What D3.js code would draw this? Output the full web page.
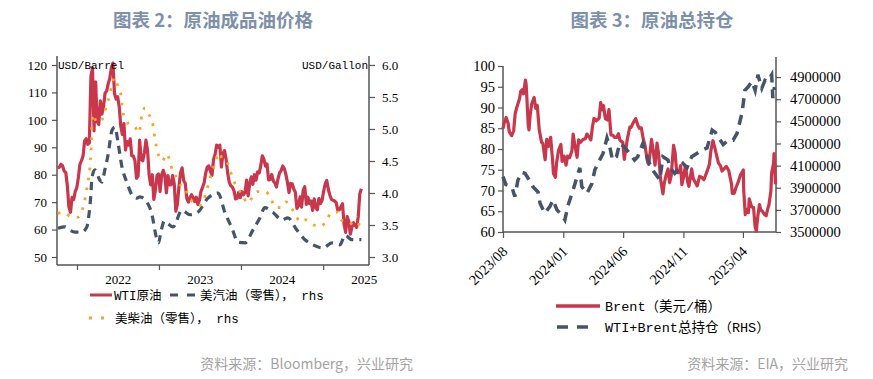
<!DOCTYPE html>
<html><head><meta charset="utf-8">
<script src="https://cdn.jsdelivr.net/npm/d3@7"></script>
<style>body{margin:0;background:#fff;}svg{display:block}</style>
</head><body>
<svg id="c" width="873" height="379"></svg>
<script>
// ---------------- Chart 2 data ----------------
const wtiStart = "2021-10-08"; // weekly observations
const wtiValues = [
 82.3,82.8,83.8,83.2,81.3,80.8,76.1,68.2,66.3,71.7,70.9,73.8,75.2,
 78.9,83.8,85.1,86.8,92.3,93.1,91.1,91.6,115.7,119.0,96.0,113.9,99.3,98.3,106.9,102.1,104.7,
 109.8,110.5,113.2,115.1,118.9,120.7,109.6,107.6,108.4,104.8,97.6,94.7,98.6,89.0,92.1,90.8,93.1,
 86.9,86.8,85.1,78.7,79.5,92.6,85.6,85.1,87.9,92.6,89.0,80.1,76.3,80.0,71.0,74.3,79.6,80.3,
 73.8,79.9,81.6,79.7,73.4,79.7,76.3,76.3,79.7,76.7,66.7,69.3,75.7,80.7,82.5,77.9,76.8,
 71.3,70.0,71.7,72.7,71.7,70.2,71.8,69.2,70.6,73.9,75.4,77.1,80.6,82.8,83.2,81.3,79.8,
 85.6,87.5,90.8,90.0,90.8,82.8,87.7,88.8,85.5,80.5,77.2,75.9,75.5,74.1,71.2,71.4,73.6,71.7,
 73.8,72.7,73.4,78.0,72.3,76.8,79.2,76.5,80.0,78.0,81.0,80.6,83.2,86.9,85.7,83.1,83.9,
 78.1,78.3,80.1,77.7,77.0,75.5,78.5,80.7,81.5,83.2,82.2,80.1,77.2,73.5,76.8,76.7,74.8,73.6,
 67.7,68.7,71.9,68.2,74.4,75.6,69.2,71.8,69.5,70.4,67.0,71.2,68.0,67.2,71.3,69.5,70.6,
 73.96,76.6,77.9,74.7,72.5,71.0,70.7,70.4,69.8,67.0,67.2,68.3,69.4,61.99,59.0,64.7,63.0,
 58.3,61.0,62.5,61.5,60.8,64.6,73.0,74.9
];
const gasDates = ["2021-10-08","2021-11-08","2021-11-30","2021-12-23","2022-01-23","2022-02-14","2022-02-21","2022-03-03","2022-03-09","2022-03-22","2022-04-13","2022-04-22","2022-05-05","2022-05-19","2022-06-06","2022-06-19","2022-07-03","2022-07-20","2022-08-12","2022-09-03","2022-09-25","2022-10-08","2022-11-08","2022-12-01","2022-12-20","2022-12-30","2023-01-10","2023-01-25","2023-02-10","2023-03-05","2023-04-13","2023-05-19","2023-06-23","2023-08-07","2023-09-21","2023-10-22","2023-11-22","2023-12-19","2024-01-19","2024-02-23","2024-03-25","2024-04-16","2024-05-22","2024-07-01","2024-07-28","2024-09-06","2024-10-12","2024-11-17","2024-12-31","2025-02-09","2025-03-17","2025-04-08","2025-05-09","2025-06-20"];
const gasValues = [3.45,3.47,3.42,3.39,3.39,3.47,3.60,3.94,4.25,4.36,4.20,4.17,4.36,4.59,4.98,5.03,4.78,4.41,4.16,3.97,3.92,3.94,3.86,3.66,3.31,3.22,3.40,3.56,3.52,3.47,3.73,3.66,3.70,3.92,4.00,3.69,3.45,3.23,3.22,3.42,3.61,3.77,3.70,3.58,3.61,3.42,3.27,3.19,3.14,3.22,3.19,3.34,3.27,3.27];
const dslDates = ["2021-10-08","2021-10-31","2021-11-30","2022-01-04","2022-02-13","2022-03-04","2022-03-12","2022-03-30","2022-04-12","2022-04-26","2022-05-14","2022-05-27","2022-06-05","2022-06-18","2022-07-02","2022-07-15","2022-07-24","2022-08-07","2022-08-25","2022-09-16","2022-10-04","2022-10-17","2022-10-31","2022-11-13","2022-12-06","2022-12-15","2022-12-24","2023-01-15","2023-02-06","2023-02-20","2023-03-01","2023-03-23","2023-04-05","2023-04-28","2023-05-11","2023-06-03","2023-07-04","2023-07-27","2023-08-18","2023-09-09","2023-09-23","2023-10-11","2023-11-02","2023-11-16","2023-11-29","2023-12-17","2024-01-08","2024-01-30","2024-02-22","2024-03-15","2024-04-20","2024-05-12","2024-06-04","2024-06-26","2024-07-19","2024-08-10","2024-09-01","2024-09-19","2024-10-16","2024-11-20","2024-12-22","2025-01-22","2025-02-04","2025-03-08","2025-03-21","2025-04-26","2025-05-27","2025-06-20"];
const dslValues = [3.68,3.70,3.64,3.62,4.05,4.62,5.23,5.11,5.11,5.17,5.38,5.53,5.69,5.80,5.67,5.55,5.27,5.14,5.06,5.03,4.94,5.22,5.33,5.25,5.05,4.83,4.67,4.50,4.61,4.47,4.36,4.23,4.13,4.08,3.94,3.86,3.81,3.97,4.25,4.48,4.63,4.53,4.47,4.33,4.20,4.08,3.97,3.84,3.94,4.02,4.02,3.92,3.77,3.77,3.86,3.77,3.66,3.55,3.58,3.50,3.48,3.61,3.69,3.70,3.58,3.55,3.47,3.58];
const leftTicksL = [50,60,70,80,90,100,110,120];
const leftTicksR = [3.0,3.5,4.0,4.5,5.0,5.5,6.0];
const yearTicks = ["2022-01-01","2023-01-01","2024-01-01","2025-01-01"];
const yearLabelDates = ["2022-07-01","2023-07-01","2024-07-01","2025-07-01"];
const yearLabels = ["2022","2023","2024","2025"];

// ---------------- Chart 3 data ----------------
const brentDates = ["2023-08-01","2023-08-04","2023-08-09","2023-08-14","2023-08-17","2023-08-23","2023-08-28","2023-09-01","2023-09-05","2023-09-12","2023-09-15","2023-09-19","2023-09-22","2023-09-27","2023-09-29","2023-10-04","2023-10-06","2023-10-09","2023-10-13","2023-10-19","2023-10-23","2023-10-27","2023-11-01","2023-11-07","2023-11-10","2023-11-16","2023-11-20","2023-11-24","2023-11-30","2023-12-05","2023-12-07","2023-12-12","2023-12-15","2023-12-20","2023-12-26","2023-12-29","2024-01-03","2024-01-08","2024-01-12","2024-01-17","2024-01-23","2024-01-26","2024-01-31","2024-02-05","2024-02-09","2024-02-14","2024-02-20","2024-02-26","2024-03-01","2024-03-06","2024-03-11","2024-03-15","2024-03-19","2024-03-25","2024-04-01","2024-04-05","2024-04-09","2024-04-12","2024-04-17","2024-04-22","2024-04-26","2024-05-01","2024-05-06","2024-05-10","2024-05-15","2024-05-20","2024-05-24","2024-05-31","2024-06-04","2024-06-07","2024-06-12","2024-06-18","2024-06-21","2024-06-27","2024-07-03","2024-07-08","2024-07-12","2024-07-17","2024-07-22","2024-07-26","2024-08-02","2024-08-05","2024-08-12","2024-08-16","2024-08-21","2024-08-26","2024-08-30","2024-09-04","2024-09-10","2024-09-13","2024-09-18","2024-09-23","2024-09-27","2024-10-01","2024-10-07","2024-10-11","2024-10-15","2024-10-21","2024-10-25","2024-10-28","2024-11-01","2024-11-06","2024-11-12","2024-11-15","2024-11-22","2024-11-26","2024-12-02","2024-12-06","2024-12-12","2024-12-17","2024-12-23","2024-12-31","2025-01-06","2025-01-10","2025-01-15","2025-01-20","2025-01-24","2025-01-29","2025-02-03","2025-02-07","2025-02-12","2025-02-18","2025-02-24","2025-03-03","2025-03-05","2025-03-10","2025-03-14","2025-03-20","2025-03-26","2025-04-02","2025-04-03","2025-04-07","2025-04-09","2025-04-11","2025-04-15","2025-04-17","2025-04-23","2025-04-28","2025-05-02","2025-05-05","2025-05-09","2025-05-13","2025-05-16","2025-05-21","2025-05-27","2025-05-30","2025-06-03","2025-06-06","2025-06-11","2025-06-13","2025-06-18","2025-06-19","2025-06-20","2025-06-23"];
const brentValues = [84.9,86.2,87.6,86.2,84.1,83.2,84.4,88.6,90.0,92.1,93.9,94.3,93.3,96.6,95.3,85.8,84.6,88.2,90.9,92.4,89.8,90.5,84.6,81.6,81.4,77.4,82.3,80.6,82.8,77.2,74.1,73.2,76.6,79.7,81.1,77.0,78.3,76.1,78.3,77.9,79.6,83.6,80.6,78.0,82.2,81.6,82.3,82.5,83.6,82.96,82.2,85.3,87.4,86.8,87.4,91.2,89.4,90.5,87.3,87.0,89.5,83.4,83.3,82.8,82.8,83.7,82.1,81.6,77.5,79.6,82.6,85.3,85.2,86.4,87.3,85.8,85.0,85.1,82.4,81.1,76.8,76.3,82.3,79.7,76.1,81.4,78.8,72.7,69.2,71.6,73.7,75.2,71.9,73.6,80.9,79.0,74.3,74.3,76.0,71.4,73.1,75.9,72.0,71.0,75.2,72.8,71.8,71.1,73.4,73.2,72.6,74.6,76.3,79.8,82.0,80.2,78.5,76.6,75.96,74.7,75.2,75.8,74.8,71.6,69.3,69.3,70.6,72.0,73.8,74.95,70.1,64.2,65.5,64.8,64.7,68.0,66.1,65.9,61.3,60.2,63.9,66.6,65.4,64.9,64.1,63.9,65.6,66.5,69.8,74.2,76.7,78.9,77.0,71.5];
const posDates = ["2023-08-01","2023-08-08","2023-08-15","2023-08-24","2023-08-31","2023-09-08","2023-09-18","2023-09-26","2023-10-03","2023-10-16","2023-10-29","2023-11-03","2023-11-15","2023-11-28","2023-12-06","2023-12-16","2023-12-29","2024-01-05","2024-01-13","2024-01-26","2024-02-05","2024-02-12","2024-02-17","2024-03-01","2024-03-14","2024-03-21","2024-03-29","2024-04-11","2024-04-21","2024-04-28","2024-05-05","2024-05-15","2024-05-23","2024-06-04","2024-06-17","2024-06-30","2024-07-08","2024-07-21","2024-08-03","2024-08-15","2024-09-02","2024-09-10","2024-09-23","2024-09-28","2024-10-10","2024-10-18","2024-10-31","2024-11-10","2024-11-22","2024-12-05","2024-12-18","2024-12-31","2025-01-13","2025-01-21","2025-01-28","2025-02-10","2025-02-23","2025-03-07","2025-03-17","2025-03-30","2025-04-06","2025-04-14","2025-04-24","2025-05-02","2025-05-09","2025-05-19","2025-05-27","2025-06-03","2025-06-13","2025-06-16","2025-06-20"];
const posValues = [4000000,3930000,3920000,3900000,3820000,3970000,4040000,4030000,3990000,3910000,3860000,3760000,3670000,3730000,3790000,3700000,3650000,3610000,3740000,3880000,4000000,4080000,3910000,3850000,3940000,4060000,4120000,4210000,4350000,4270000,4150000,4180000,4300000,4270000,4210000,4150000,4180000,4300000,4150000,4060000,3970000,4180000,4150000,4080000,4030000,4060000,4120000,4080000,4180000,4210000,4240000,4260000,4420000,4400000,4360000,4290000,4330000,4330000,4390000,4580000,4780000,4810000,4860000,4780000,4920000,4800000,4870000,4860000,4920000,4710000,4810000];
const rightTicksL = [60,65,70,75,80,85,90,95,100];
const rightTicksR = [3500000,3700000,3900000,4100000,4300000,4500000,4700000,4900000];
const monthTicks = ["2023-08-01","2024-01-01","2024-06-01","2024-11-01","2025-04-01"];
const monthLabels = ["2023/08","2024/01","2024/06","2024/11","2025/04"];

// ---------------- styles ----------------
const RED = "#C9374C", NAVY = "#44546A", ORANGE = "#F7A428";
const TITLE = "#7d90aa", AXIS = "#555";
const SERIF = "'Liberation Serif','Times New Roman',serif";
const CJK = "'Noto Sans CJK SC','Noto Sans',sans-serif";
const MONO = "'Liberation Mono','Noto Sans CJK SC',monospace";

const parse = d3.timeParse("%Y-%m-%d");
const svg = d3.select("#c");

function styleAxis(g, size) {
  g.select(".domain").remove();
  g.selectAll(".tick line").attr("stroke", AXIS).attr("stroke-width", 1.2);
  g.selectAll("text").attr("font-family", SERIF).attr("font-size", size).attr("fill", "#000");
}

// ================= Chart 2 =================
{
  const x = d3.scaleTime().domain([parse("2021-10-04"), parse("2025-07-24")]).range([57, 369]);
  const yL = d3.scaleLinear().domain([47.08, 123.28]).range([265, 56]);
  const yR = d3.scaleLinear().domain([2.875, 6.14]).range([265, 56]);

  svg.append("text").attr("x", 213).attr("y", 27).attr("text-anchor", "middle")
    .attr("font-family", CJK).attr("font-weight", "bold").attr("font-size", 18.5)
    .attr("fill", TITLE).text("图表 2：原油成品油价格");

  const gL = svg.append("g").attr("transform", "translate(57,0)")
    .call(d3.axisLeft(yL).tickValues(leftTicksL).tickSize(5).tickPadding(5));
  styleAxis(gL, 13);
  const gR = svg.append("g").attr("transform", "translate(369,0)")
    .call(d3.axisRight(yR).tickValues(leftTicksR).tickFormat(d3.format(".1f")).tickSize(6).tickPadding(7));
  styleAxis(gR, 13);
  const gX = svg.append("g").attr("transform", "translate(0,265)")
    .call(d3.axisBottom(x).tickValues(yearTicks.map(parse)).tickSize(5).tickFormat(""));
  styleAxis(gX, 13);
  const gX2 = svg.append("g").attr("transform", "translate(0,265)")
    .call(d3.axisBottom(x).tickValues(yearLabelDates.map(parse)).tickSize(0).tickPadding(10)
      .tickFormat((d, i) => yearLabels[i]));
  styleAxis(gX2, 13);

  svg.append("line").attr("x1", 57).attr("x2", 57).attr("y1", 56).attr("y2", 265).attr("stroke", AXIS).attr("stroke-width", 1.5);
  svg.append("line").attr("x1", 369).attr("x2", 369).attr("y1", 56).attr("y2", 265).attr("stroke", AXIS).attr("stroke-width", 1.5);
  svg.append("line").attr("x1", 57).attr("x2", 369).attr("y1", 265).attr("y2", 265).attr("stroke", AXIS).attr("stroke-width", 1.5);

  const wti = wtiValues.map((v, i) => ({d: d3.timeDay.offset(parse(wtiStart), 7 * i), v}));
  const gas = gasDates.map((d, i) => ({d: parse(d), v: gasValues[i]}));
  const dsl = dslDates.map((d, i) => ({d: parse(d), v: dslValues[i]}));

  svg.append("path").datum(gas).attr("fill", "none").attr("stroke", NAVY).attr("stroke-width", 3.2)
    .attr("stroke-dasharray", "8,6")
    .attr("d", d3.line().x(p => x(p.d)).y(p => yR(p.v)).curve(d3.curveMonotoneX));
  svg.append("path").datum(wti).attr("fill", "none").attr("stroke", RED).attr("stroke-width", 3.2)
    .attr("stroke-linejoin", "round")
    .attr("d", d3.line().x(p => x(p.d)).y(p => yL(p.v)));
  svg.append("path").datum(dsl).attr("fill", "none").attr("stroke", ORANGE).attr("stroke-width", 2.8)
    .attr("stroke-dasharray", "2.6,7.5")
    .attr("d", d3.line().x(p => x(p.d)).y(p => yR(p.v)).curve(d3.curveMonotoneX));

  svg.append("text").attr("x", 58).attr("y", 69).attr("font-family", MONO).attr("font-size", 11)
    .attr("fill", "#000").text("USD/Barrel");
  svg.append("text").attr("x", 368).attr("y", 69).attr("text-anchor", "end").attr("font-family", MONO)
    .attr("font-size", 11).attr("fill", "#000").text("USD/Gallon");

  // legend
  svg.append("line").attr("x1", 90).attr("x2", 112).attr("y1", 295).attr("y2", 295).attr("stroke", RED).attr("stroke-width", 3);
  svg.append("text").attr("x", 114).attr("y", 299.5).attr("font-family", MONO).attr("font-size", 12.5).text("WTI原油");
  svg.append("line").attr("x1", 170).attr("x2", 197).attr("y1", 295).attr("y2", 295).attr("stroke", NAVY).attr("stroke-width", 3).attr("stroke-dasharray", "8,9");
  svg.append("text").attr("x", 200).attr("y", 299.5).attr("font-family", MONO).attr("font-size", 12.5).text("美汽油（零售）， rhs");
  svg.append("line").attr("x1", 89).attr("x2", 104).attr("y1", 318).attr("y2", 318).attr("stroke", ORANGE).attr("stroke-width", 3).attr("stroke-dasharray", "3,9");
  svg.append("text").attr("x", 115).attr("y", 322.5).attr("font-family", MONO).attr("font-size", 12.5).text("美柴油（零售）， rhs");

  svg.append("text").attr("x", 413).attr("y", 369).attr("text-anchor", "end").attr("font-family", CJK)
    .attr("font-size", 14).attr("fill", "#a3a3a3").text("资料来源：Bloomberg，兴业研究");
}

// ================= Chart 3 =================
{
  const x = d3.scaleTime().domain([parse("2023-08-01"), parse("2025-06-24")]).range([503, 776]);
  const yB = d3.scaleLinear().domain([60, 100]).range([232, 66]);
  const yP = d3.scaleLinear().domain([3500000, 5000000]).range([232, 66]);

  svg.append("text").attr("x", 652).attr("y", 27).attr("text-anchor", "middle")
    .attr("font-family", CJK).attr("font-weight", "bold").attr("font-size", 18.5)
    .attr("fill", TITLE).text("图表 3：原油总持仓");

  const gL = svg.append("g").attr("transform", "translate(503,0)")
    .call(d3.axisLeft(yB).tickValues(rightTicksL).tickSize(5).tickPadding(3));
  styleAxis(gL, 14.5);
  const gR = svg.append("g").attr("transform", "translate(776,0)")
    .call(d3.axisRight(yP).tickValues(rightTicksR).tickFormat(d3.format("d")).tickSize(5).tickPadding(9));
  styleAxis(gR, 14.5);
  const gX = svg.append("g").attr("transform", "translate(0,232)")
    .call(d3.axisBottom(x).tickValues(monthTicks.map(parse)).tickSize(6).tickFormat(""));
  styleAxis(gX, 14.5);

  svg.append("line").attr("x1", 503).attr("x2", 503).attr("y1", 66).attr("y2", 232).attr("stroke", AXIS).attr("stroke-width", 1.5);
  svg.append("line").attr("x1", 776).attr("x2", 776).attr("y1", 57).attr("y2", 232).attr("stroke", AXIS).attr("stroke-width", 1.5);
  svg.append("line").attr("x1", 503).attr("x2", 776).attr("y1", 232).attr("y2", 232).attr("stroke", AXIS).attr("stroke-width", 1.5);

  svg.append("g").selectAll("text").data(monthTicks).join("text")
    .attr("transform", d => `translate(${x(parse(d)) - 2},245) rotate(-45)`)
    .attr("text-anchor", "end").attr("dy", "0.71em")
    .attr("font-family", SERIF).attr("font-size", 14.5).attr("fill", "#000")
    .text((d, i) => monthLabels[i]);

  const brent = brentDates.map((d, i) => ({d: parse(d), v: brentValues[i]}));
  const pos = posDates.map((d, i) => ({d: parse(d), v: posValues[i]}));

  svg.append("path").datum(brent).attr("fill", "none").attr("stroke", RED).attr("stroke-width", 3.2)
    .attr("stroke-linejoin", "round")
    .attr("d", d3.line().x(p => x(p.d)).y(p => yB(p.v)));
  svg.append("path").datum(pos).attr("fill", "none").attr("stroke", NAVY).attr("stroke-width", 3.5)
    .attr("stroke-dasharray", "10,7")
    .attr("d", d3.line().x(p => x(p.d)).y(p => yP(p.v)));

  svg.append("line").attr("x1", 556).attr("x2", 600).attr("y1", 306).attr("y2", 306).attr("stroke", RED).attr("stroke-width", 3.5);
  svg.append("text").attr("x", 605).attr("y", 311).attr("font-family", MONO).attr("font-size", 13.5).text("Brent（美元/桶）");
  svg.append("line").attr("x1", 557).attr("x2", 589).attr("y1", 327).attr("y2", 327).attr("stroke", NAVY).attr("stroke-width", 3.5).attr("stroke-dasharray", "11,9");
  svg.append("text").attr("x", 605).attr("y", 332).attr("font-family", MONO).attr("font-size", 13.5).text("WTI+Brent总持仓（RHS）");

  svg.append("text").attr("x", 848).attr("y", 369).attr("text-anchor", "end").attr("font-family", CJK)
    .attr("font-size", 14).attr("fill", "#a3a3a3").text("资料来源：EIA，兴业研究");
}
</script>
</body></html>
